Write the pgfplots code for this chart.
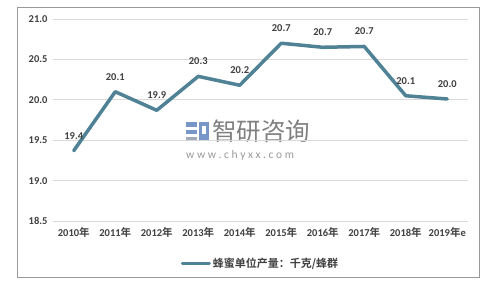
\documentclass[border=0pt]{standalone}
\usepackage{pgfplots}
\pgfplotsset{compat=1.18}
\usepackage{fontspec}
\setmainfont{Carlito}
\newfontfamily\cjk{Noto Sans CJK SC}[BoldFont={Noto Sans CJK SC Bold}]
\definecolor{linec}{RGB}{80,130,150}
\definecolor{txt}{RGB}{64,64,64}
\definecolor{gridc}{RGB}{217,217,217}
\definecolor{logob}{RGB}{120,150,200}
\definecolor{logog}{RGB}{160,170,185}
\begin{document}
\begin{tikzpicture}[x=1pt,y=1pt]
\fill[white] (0,0) rectangle (500,285);
\draw[color=black!40, line width=1pt] (17,8) rectangle (479,278);
% watermark
\fill[logob] (186,158) rectangle (197,163);
\fill[logob] (186,151) rectangle (197,155);
\fill[logog] (186,144) rectangle (197,148);
\fill[logob] (199,144) rectangle (209,163);
\fill[white] (202,151) rectangle (206,159);
\node[anchor=west, text=black!50, font=\cjk\fontsize{24.5}{24.5}\selectfont, inner sep=0] at (212,153.5) {智研咨询};
\node[anchor=west, text=black!40, font=\fontsize{11.5}{11.5}\selectfont, inner sep=0] at (186,130) {w\kern2.6pt w\kern2.6pt w\kern2.6pt .\kern2.6pt c\kern2.6pt h\kern2.6pt y\kern2.6pt x\kern2.6pt x\kern2.6pt .\kern2.6pt c\kern2.6pt o\kern2.6pt m};
\begin{axis}[
  at={(53pt,64pt)}, anchor=south west,
  scale only axis, width=415pt, height=202pt,
  xmin=-0.5, xmax=9.5, ymin=18.5, ymax=21.0,
  ytick={18.5,19.0,19.5,20.0,20.5,21.0},
  xtick={0,...,9},
  xticklabels={{2010{\cjk\bfseries 年}},{2011{\cjk\bfseries 年}},{2012{\cjk\bfseries 年}},{2013{\cjk\bfseries 年}},{2014{\cjk\bfseries 年}},{2015{\cjk\bfseries 年}},{2016{\cjk\bfseries 年}},{2017{\cjk\bfseries 年}},{2018{\cjk\bfseries 年}},{2019{\cjk\bfseries 年}e}},
  axis line style={draw=none},
  major tick length=0pt,
  ymajorgrids, grid style={gridc, line width=0.8pt},
  yticklabel style={/pgf/number format/fixed, /pgf/number format/fixed zerofill, /pgf/number format/precision=1, /pgf/number format/assume math mode=true, font=\bfseries\fontsize{10.5}{10.5}\selectfont, text=txt, xshift=-2pt},
  xticklabel style={font=\bfseries\fontsize{10.5}{10.5}\selectfont, text=txt, yshift=-3pt},
  legend style={at={(0.5,-0.208)}, anchor=center, draw=none, fill=none, font=\cjk\bfseries\fontsize{11}{11}\selectfont, text=txt, inner sep=0pt},
  legend image code/.code={\draw[#1, line width=3pt] (0pt,0pt) -- (27pt,0pt);},
  clip=false,
]
\addplot[color=linec, line width=3.5pt, line join=round, line cap=round,
  nodes near coords, point meta=explicit symbolic,
  every node near coord/.append style={anchor=center, yshift=15pt, font=\bfseries\fontsize{10.5}{10.5}\selectfont, text=txt}]
  table[meta=lab] {
x y lab
0 19.37 19.4
1 20.10 20.1
2 19.87 19.9
3 20.29 20.3
4 20.18 20.2
5 20.70 20.7
6 20.65 20.7
7 20.66 20.7
8 20.05 20.1
9 20.01 20.0
};
\addlegendentry{蜂蜜单位产量：千克/蜂群}
\end{axis}
\path (0,0) rectangle (500,285);
\end{tikzpicture}
\end{document}
